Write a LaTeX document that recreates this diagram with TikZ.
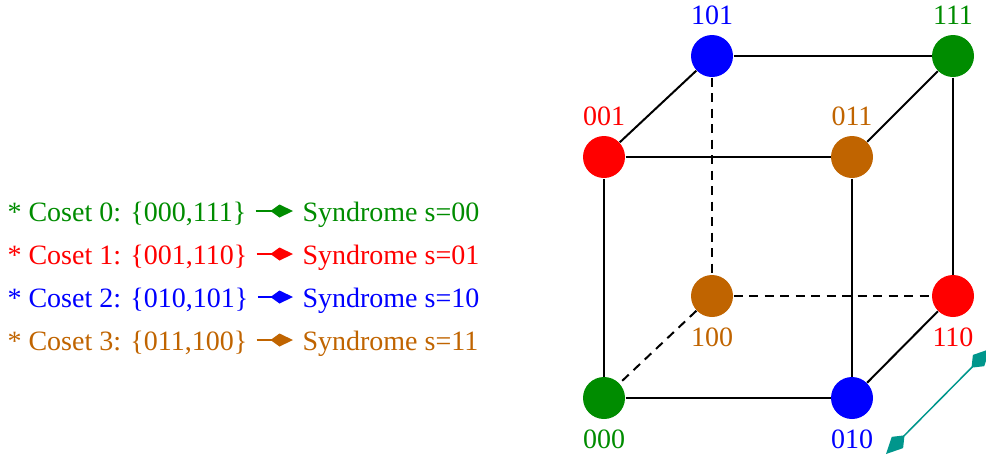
\documentclass[tikz,border=0pt]{standalone}
\usepackage{fontspec}
\setmainfont{Liberation Serif}
\usetikzlibrary{arrows.meta,positioning}

\definecolor{cgreen}{RGB}{0,140,0}
\definecolor{cred}{RGB}{255,0,0}
\definecolor{cblue}{RGB}{0,0,255}
\definecolor{corange}{RGB}{192,100,0}
\definecolor{cteal}{RGB}{0,150,140}

\begin{document}
\begin{tikzpicture}[x=0.4pt, y=-0.4pt, font=\fontsize{11.2}{13}\selectfont,
  vertex/.style={circle, minimum size=16.8pt, inner sep=0pt},
  cubeedge/.style={line width=0.8pt},
  hiddenedge/.style={cubeedge, dash pattern=on 3.6pt off 2.6pt},
  legendtext/.style={anchor=base west, inner sep=0pt, text height=0.8em, text depth=0pt},
  legendarrow/.style={line width=0.8pt, -{Kite[length=9pt,width=5.2pt,inset=3.6pt]}},
  dimarrow/.style={cteal, line width=0.6pt, {Kite[length=10.5pt,width=6.4pt,inset=4pt]}-{Kite[length=10.5pt,width=6.4pt,inset=4pt]}}]

  \clip (0,0) rectangle (986,455);

  %cube vertices
    \foreach \name/\x/\y/\col/\pos in {000/604/398/cgreen/below,010/852/398/cblue/below,001/604/157/cred/above,011/852/157/corange/above,101/712/56/cblue/above,111/953/56/cgreen/above,100/712/296/corange/below,110/953/296/cred/below}{
        \node[vertex, fill=\col, label={[label distance=3.8pt, inner sep=0pt, text=\col]\pos:\name}] (v\name) at (\x,\y) {};
    }

  %cube edges
    \foreach \a/\b in {000/010,000/001,001/011,011/010,001/101,101/111,111/011,111/110,110/010}{
        \draw[cubeedge] (v\a) -- (v\b);
    }
    \foreach \a/\b in {101/100,100/110,100/000}{
        \draw[hiddenedge] (v\a) -- (v\b);
    }

  %cosets and syndromes
    \foreach \i/\set/\s/\col in {0/{000,111}/00/cgreen,1/{001,110}/01/cred,2/{010,101}/10/cblue,3/{011,100}/11/corange}{
        \node[legendtext, text=\col] (cos\i) at (7,{221+43*\i}) {* Coset \i: \{\set\}};
        \node[legendtext, text=\col] (syn\i) at (302,{221+43*\i}) {Syndrome s=\s};
        \draw[legendarrow, \col, shorten <=3.6pt, shorten >=3.6pt] (cos\i) -- (syn\i);
    }

  %double arrow
    \coordinate (dimlow) at (886,454);
    \coordinate (dimhigh) at (990,349);
    \draw[dimarrow] (dimlow) -- (dimhigh);

\end{tikzpicture}
\end{document}
